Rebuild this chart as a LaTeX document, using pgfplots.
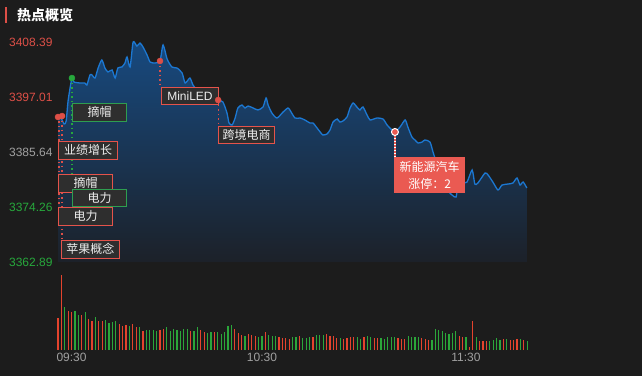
\documentclass[border=0pt]{standalone}
\usepackage{fontspec}
\setmainfont{Liberation Sans}
\newfontfamily\cjk{Noto Sans CJK SC}
\usepackage{pgfplots}
\pgfplotsset{compat=1.18}
\usepackage{pgfplotstable}

\definecolor{bg}{HTML}{1C1C1C}
\definecolor{pred}{HTML}{DD4F47}
\definecolor{pgreen}{HTML}{27A83C}
\definecolor{pgray}{HTML}{A0A0A0}
\definecolor{vred}{HTML}{E4432D}
\definecolor{vgreen}{HTML}{2BA63A}
\definecolor{pline}{HTML}{1C78D2}
\definecolor{ftop}{HTML}{174A80}
\definecolor{fbot}{HTML}{1C2129}
\definecolor{boxbg}{HTML}{2E2E2E}
\definecolor{boxred}{HTML}{E5534B}
\definecolor{boxgreen}{HTML}{2E9E50}
\definecolor{tagred}{HTML}{EA5A52}
\definecolor{txt}{HTML}{EEEEEE}

\pgfplotstableread{
m p
0 3393.08
0.9 3392.67
1.8 3391.43
2.4 3392.05
3.0 3396.39
4.1 3400.94
4.7 3400.12
6.5 3399.91
7.9 3399.91
8.5 3399.50
9.4 3401.57
10.0 3401.57
10.9 3400.94
11.8 3403.01
12.9 3404.67
13.8 3403.01
14.7 3402.19
15.9 3402.60
16.8 3400.94
17.6 3403.01
18.8 3403.22
19.7 3404.05
20.3 3405.29
21.2 3403.22
22.1 3408.39
23.2 3407.56
24.1 3408.18
25.0 3407.36
26.2 3405.70
27.1 3404.25
28.5 3404.05
30.0 3404.46
30.9 3407.77
32.1 3404.87
33.5 3403.22
35.0 3403.01
36.5 3401.98
37.4 3399.91
38.8 3400.94
39.7 3399.50
40.9 3398.46
42.6 3397.84
45.6 3397.01
47.1 3396.39
48.5 3395.98
49.7 3393.71
50.3 3391.64
51.2 3391.22
52.1 3392.67
52.9 3394.74
54.1 3395.36
55.0 3394.74
55.9 3395.15
57.4 3394.74
58.8 3394.33
60.3 3394.95
61.2 3396.81
61.8 3395.36
62.9 3393.71
64.4 3392.67
66.2 3393.91
67.6 3394.74
68.2 3394.33
69.7 3392.67
71.2 3392.67
72.6 3392.26
74.1 3391.64
75.0 3391.64
76.2 3390.60
77.1 3389.78
77.9 3389.16
79.1 3389.36
80.0 3390.19
80.9 3391.84
82.1 3392.46
82.9 3391.84
83.8 3392.05
85.0 3392.88
85.9 3394.74
86.8 3395.77
87.9 3394.95
88.8 3394.33
89.7 3394.95
90.9 3393.29
91.8 3392.26
93.8 3392.67
95.6 3392.46
96.8 3391.22
98.2 3390.19
99.1 3389.78
100.6 3390.81
102.1 3392.26
102.9 3390.81
104.1 3388.74
105.0 3388.12
105.9 3387.50
107.1 3387.71
107.9 3388.12
109.4 3387.71
110.3 3385.64
111.5 3382.95
112.9 3379.85
114.4 3377.78
115.9 3376.75
117.1 3376.33
117.6 3379.23
118.8 3379.23
120.3 3379.43
121.8 3381.92
122.6 3379.02
123.5 3379.23
125.6 3381.30
126.5 3380.88
127.9 3379.43
129.4 3377.78
130.6 3378.81
132.4 3379.02
133.8 3379.23
135.0 3380.26
135.9 3378.81
136.8 3379.43
137.9 3378.19
}\pricedata

\tikzset{
  tagbox/.style={anchor=north west, fill=boxbg, text=txt, line width=1pt,
    inner sep=0pt, minimum height=17.5pt, font=\cjk\fontsize{12}{14}\selectfont},
}

\begin{document}
\begin{tikzpicture}[x=1pt,y=1pt]
\useasboundingbox (0,0) rectangle (642,376);
\fill[bg] (0,0) rectangle (642,376);
\fill[pred] (5,353) rectangle (7,369);
\node[anchor=west, text=white, inner sep=0pt] at (17,361) {\cjk\fontsize{14}{16}\selectfont\bfseries 热点概览};

% volume axis
\begin{axis}[
  at={(58pt,26.5pt)}, anchor=south west, scale only axis,
  width=581.4pt, height=74.33pt,
  xmin=0, xmax=171, ymin=0, ymax=223,
  axis line style={draw=none}, tick style={draw=none},
  ytick=\empty,
  xtick={60,120}, xticklabels={10:30,11:30},
  extra x ticks={0}, extra x tick labels={09:30},
  extra x tick style={xticklabel style={anchor=north west, xshift=-5pt}},
  xticklabel style={text=pgray, font=\fontsize{12}{14}\selectfont},
  clip=false,
]
\addplot[ycomb, color=vred, line width=1.1pt, mark=none] coordinates {
(0,95)(1,223)(3,115)(4,112)(7,103)(9,91)(10,85)(12,85)(13,85)(18,76)(19,70)(20,73)(22,76)(23,67)(25,55)(30,58)(31,61)(39,55)(42,58)(43,52)(46,52)(52,61)(53,49)(54,43)(56,46)(57,43)(58,40)(61,52)(65,37)(66,34)(67,34)(68,33)(71,42)(75,39)(79,48)(80,42)(81,42)(82,36)(84,33)(85,36)(86,39)(87,39)(90,39)(93,36)(94,36)(100,36)(101,33)(102,33)(107,36)(108,33)(109,30)(118,42)(119,39)(121,9)(122,87)(124,27)(125,27)(126,27)(131,33)(133,30)(134,30)(135,33)(137,30)
};
\addplot[ycomb, color=vgreen, line width=1.1pt, mark=none] coordinates {
(2,127)(5,115)(6,103)(8,112)(11,97)(14,88)(15,79)(16,82)(17,85)(21,70)(24,67)(26,58)(27,58)(28,58)(29,55)(32,67)(33,55)(34,61)(35,58)(36,55)(37,61)(38,61)(40,55)(41,67)(44,49)(45,52)(47,52)(48,46)(49,52)(50,70)(51,73)(55,40)(59,37)(60,40)(62,43)(63,40)(64,40)(69,39)(70,39)(72,36)(73,36)(74,39)(76,45)(77,45)(78,45)(83,36)(88,39)(89,33)(91,42)(92,39)(95,36)(96,33)(97,39)(98,39)(99,39)(103,42)(104,39)(105,39)(106,39)(110,30)(111,63)(112,60)(113,57)(114,51)(115,48)(116,51)(117,57)(120,39)(123,39)(127,27)(128,30)(129,36)(130,30)(132,33)(136,33)(138,27)
};
\end{axis}

% price axis
\begin{axis}[
  at={(58pt,114pt)}, anchor=south west, scale only axis,
  width=581.4pt, height=220pt,
  xmin=0, xmax=171, ymin=3362.89, ymax=3408.39,
  axis line style={draw=none}, tick style={draw=none},
  xtick=\empty,
  ytick={3362.89,3374.26,3385.64,3397.01,3408.39},
  yticklabels={\textcolor{pgreen}{3362.89},\textcolor{pgreen}{3374.26},\textcolor{pgray}{3385.64},\textcolor{pred}{3397.01},\textcolor{pred}{3408.39}},
  yticklabel style={font=\fontsize{12}{14}\selectfont, xshift=-2pt},
  clip=false,
]
\addplot[draw=none, top color=ftop, bottom color=fbot, smooth, tension=0.4] table {\pricedata} -- (axis cs:137.9,3362.89) -- (axis cs:0,3362.89) -- cycle;
\addplot[pline, line width=1.3pt, smooth, tension=0.4] table {\pricedata};

% connector lines
\addplot[pred, line width=1.2pt, dash pattern=on 1.5pt off 3pt] coordinates {(0.3,3392.88) (0.3,3374.26)};
\addplot[pred, line width=1.2pt, dash pattern=on 1.5pt off 3pt] coordinates {(1.2,3393.08) (1.2,3367.44)};
\addplot[pgreen, line width=1.2pt, dash pattern=on 1.5pt off 3pt] coordinates {(4.1,3400.94) (4.1,3377.99)};
\addplot[pred, line width=1.2pt, dash pattern=on 1.5pt off 3pt] coordinates {(30,3404.46) (30,3399.08)};
\addplot[pred, line width=1.2pt, dash pattern=on 1.5pt off 3pt] coordinates {(47.1,3396.39) (47.1,3391.02)};
\addplot[tagred, line width=2pt] coordinates {(99.1,3389.78) (99.1,3384.60)};
\addplot[white, line width=2pt, dash pattern=on 1.5pt off 1.5pt] coordinates {(99.1,3389.78) (99.1,3384.60)};

% boxes
\node[tagbox, draw=boxred, minimum width=59pt] at (axis cs:0,3387.91) {业绩增长};
\node[tagbox, draw=boxred, minimum width=54pt] at (axis cs:0,3381.09) {摘帽};
\node[tagbox, draw=boxgreen, minimum width=54pt] at (axis cs:4.12,3377.99) {电力};
\node[tagbox, draw=boxred, minimum width=54pt] at (axis cs:0,3374.26) {电力};
\node[tagbox, draw=boxred, minimum width=58pt] at (axis cs:0.88,3367.44) {苹果概念};
\node[tagbox, draw=boxgreen, minimum width=54pt] at (axis cs:4.12,3395.77) {摘帽};
\node[tagbox, draw=boxred, minimum width=57pt, minimum height=16.5pt, font=\fontsize{12}{14}\selectfont] at (axis cs:30.29,3399.08) {MiniLED};
\node[tagbox, draw=boxred, minimum width=56pt] at (axis cs:47.06,3391.02) {跨境电商};
\node[anchor=north west, fill=tagred, text=white, minimum width=71pt, minimum height=36pt, inner sep=0pt, align=center, font=\cjk\fontsize{12}{17}\selectfont] at (axis cs:98.82,3384.60) {新能源汽车\\涨停：2};

% dots
\addplot[only marks, mark=*, mark size=3pt, color=pred] coordinates {(0,3392.88)(1.2,3393.08)(30,3404.46)(47.1,3396.39)};
\addplot[only marks, mark=*, mark size=3pt, color=pgreen] coordinates {(4.1,3400.94)};
\addplot[only marks, mark=*, mark size=3.5pt, mark options={fill=tagred, draw=white, line width=1pt}] coordinates {(99.1,3389.78)};
\end{axis}
\end{tikzpicture}
\end{document}
